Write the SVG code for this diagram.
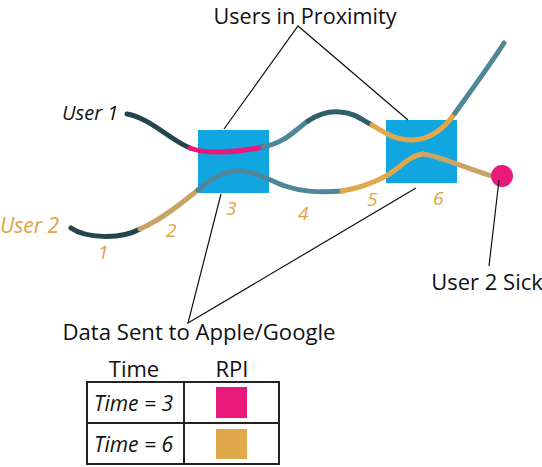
<svg xmlns="http://www.w3.org/2000/svg" width="542" height="467" viewBox="0 0 542 467">
<style>
.lbl{font-family:"Open Sans","Liberation Sans",sans-serif;font-size:22px;fill:#111}
.num{font-family:"Open Sans","Liberation Sans",sans-serif;font-size:19px;font-style:italic;fill:#e0a245}
.it{font-family:"Open Sans","Liberation Sans",sans-serif;font-size:21px;font-style:italic;fill:#111}
.call{stroke:#111;stroke-width:1.2;fill:none}
.ln{fill:none;stroke-width:5;stroke-linecap:round}
.dark{stroke:#24444e}
.steel{stroke:#4f8698}
.pink{stroke:#e8197a}
.orng{stroke:#e0a84a}
.mix{stroke:#c9a466}
.box{fill:#12a6e0}
.cell{fill:none;stroke:#222;stroke-width:2}
</style>
<g id="box1"><rect class="box" x="198" y="130" width="71" height="63"/></g>
<g id="box2"><rect class="box" x="386" y="120" width="71" height="63"/></g>
<g id="user1-path">
<path class="ln dark" d="M127,114 C150,118 170,140 190,148"/>
<path class="ln pink" d="M190,148 C205,154 235,153 263,147"/>
<path class="ln steel" d="M263,147 C285,143 295,130 308,121"/>
<path class="ln dark" style="stroke:#2f5e6c" d="M308,121 C320,113 330,111 340,112 C355,113 362,120 372,125"/>
<path class="ln orng" d="M372,125 C385,133 395,140 412,140 C430,140 445,128 455,113"/>
<path class="ln steel" d="M455,113 C470,92 490,65 504,43"/>
</g>
<g id="user2-path">
<path class="ln dark" d="M71,228 C85,238 120,240 140,229"/>
<path class="ln mix" d="M140,229 C165,218 185,200 198,190"/>
<path class="ln steel" d="M198,190 C212,178 225,170 240,171 C258,172 268,180 285,186 C300,191 315,193 342,191"/>
<path class="ln orng" d="M342,191 C360,188 375,182 386,176 C400,168 410,155 423,154"/>
<path class="ln mix" d="M423,154 C440,156 465,168 492,176"/>
</g>
<g id="sick-dot"><circle cx="502" cy="176" r="11" fill="#e8197a"/></g>
<g id="connectors">
<path class="call" d="M224,129 L298,26 L408,120"/>
<path class="call" d="M221,194 L188,323 L416,188"/>
<path class="call" d="M499,180 L489,266"/>
</g>
<g id="labels">
<text class="lbl" x="305" y="24" text-anchor="middle" textLength="183" lengthAdjust="spacingAndGlyphs">Users in Proximity</text>
<text class="lbl" x="199" y="340" text-anchor="middle" textLength="273" lengthAdjust="spacingAndGlyphs">Data Sent to Apple/Google</text>
<text class="lbl" x="487" y="290" text-anchor="middle">User 2 Sick</text>
<text class="it" x="62" y="120" style="font-size:20px">User 1</text>
<text class="num" x="0" y="233" style="font-size:21px">User 2</text>
<text class="num" x="98" y="259">1</text>
<text class="num" x="166" y="237">2</text>
<text class="num" x="226" y="215">3</text>
<text class="num" x="298" y="220">4</text>
<text class="num" x="367" y="206">5</text>
<text class="num" x="433" y="205">6</text>
</g>
<g id="table">
<text class="lbl" x="134" y="377" text-anchor="middle">Time</text>
<text class="lbl" x="232" y="377" text-anchor="middle">RPI</text>
<rect class="cell" x="87" y="382" width="192" height="82"/>
<line class="cell" x1="87" y1="423" x2="279" y2="423"/>
<line class="cell" x1="184" y1="382" x2="184" y2="464"/>
<text class="it" x="94" y="411">Time = 3</text>
<text class="it" x="94" y="452">Time = 6</text>
<rect x="216" y="387" width="31" height="31" fill="#e8197a"/>
<rect x="216" y="429" width="31" height="30" fill="#e0a84a"/>
</g>
</svg>
